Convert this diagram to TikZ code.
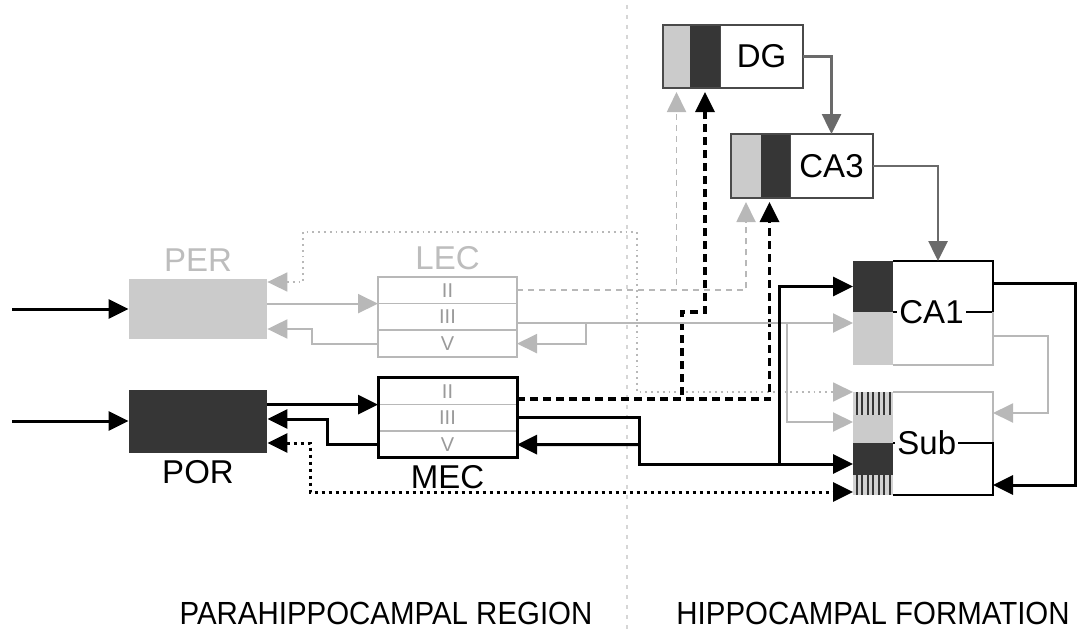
\documentclass[tikz,border=0pt]{standalone}
\usepackage{fontspec}
\setmainfont{Liberation Sans}
\newfontfamily\regfont[FakeStretch=0.92]{Liberation Sans}
\usetikzlibrary{arrows.meta,positioning}
\definecolor{lightfill}{HTML}{CBCBCB}
\definecolor{darkfill}{HTML}{363636}
\definecolor{stripefill}{HTML}{D2D2D2}
\definecolor{lightline}{HTML}{B8B8B8}
\definecolor{lighttext}{HTML}{BDBDBD}
\definecolor{midline}{HTML}{6A6A6A}
\definecolor{boxline}{HTML}{4A4A4A}
\definecolor{divline}{HTML}{D6D6D6}
\definecolor{numtext}{HTML}{9A9A9A}

\begin{document}
\begin{tikzpicture}[x=0.5pt,y=-0.5pt,>={Triangle[length=10pt,width=9.5pt]},
  lab/.style={font=\fontsize{16.5}{19}\selectfont},
  reglab/.style={font=\regfont\fontsize{16}{19}\selectfont},
  shade/.style={inner sep=0pt,minimum width=69pt},
  ecrow/.style={draw=lightline,line width=0.8pt,inner sep=0pt,outer sep=0pt,
    minimum width=69.5pt,minimum height=13.33pt,
    font=\fontsize{10}{12}\selectfont,text=numtext},
  hbox/.style={draw=boxline,line width=1pt,fill=white,inner sep=0pt,outer sep=0pt,
    minimum width=41.5pt,font=\fontsize{16.5}{19}\selectfont},
  lcol/.style={fill=lightfill,inner sep=0pt,outer sep=0pt},
  dcol/.style={fill=darkfill,inner sep=0pt,outer sep=0pt},
  wbox/.style={inner sep=0pt,outer sep=0pt,minimum width=50pt},
  hframe/.style={draw=boxline,line width=1pt},
  bedge/.style={line width=1pt},
  ledge/.style={draw=lightline,line width=0.8pt},
  stripe/.style={line width=1pt,darkfill},
  bconn/.style={->,line width=1.5pt},
  lconn/.style={->,line width=1pt,lightline},
  mconn/.style={->,line width=1.3pt,midline},
  bdash/.style={->,line width=1.7pt,dash pattern=on 4pt off 2.5pt,shorten >=2pt},
  ldash/.style={->,line width=0.9pt,lightline,dash pattern=on 3pt off 2.5pt,shorten >=2pt},
  bdot/.style={<->,line width=1.5pt,dash pattern=on 1.5pt off 2pt},
  ldot/.style={<->,line width=0.9pt,lightline,dash pattern=on 0.9pt off 2pt}]
\path[use as bounding box,fill=white] (0,0) rectangle (1090,631);
\draw[divline,line width=0.6pt,dash pattern=on 2pt off 3pt] (627,5) -- (627,631);

\node[shade,fill=lightfill,minimum height=30pt] (per) at (198,309) {};
\node[shade,fill=darkfill,minimum height=31.5pt] (por) at (198,421) {};
\node[lab,text=lighttext,above=0pt of per] (perlab) {PER};
\node[lab,below=0pt of por] (porlab) {POR};

\node[ecrow] (lec2) at (447.5,290.3) {II};
\node[ecrow,below=0pt of lec2] (lec3) {III};
\node[ecrow,below=0pt of lec3] (lec5) {V};
\node[lab,text=lighttext,above=0pt of lec2] (leclab) {LEC};

\node[ecrow] (mec2) at (447.5,391.3) {II};
\node[ecrow,below=0pt of mec2] (mec3) {III};
\node[ecrow,below=0pt of mec3] (mec5) {V};
\draw[line width=1.5pt] (mec2.north west) rectangle (mec5.south east);
\node[lab,below=0pt of mec5] (meclab) {MEC};

\node[hbox,minimum height=31.5pt] (dg) at (761.5,56.5) {DG};
\node[dcol,minimum width=15pt,minimum height=31.5pt,left=0pt of dg] (dgd) {};
\node[lcol,minimum width=13.5pt,minimum height=31.5pt,left=0pt of dgd] (dgl) {};
\draw[hframe] (dgl.north west) rectangle (dg.south east);

\node[hbox,minimum height=32pt] (ca3) at (831.5,166) {CA3};
\node[dcol,minimum width=14.5pt,minimum height=32pt,left=0pt of ca3] (ca3d) {};
\node[lcol,minimum width=15pt,minimum height=32pt,left=0pt of ca3d] (ca3l) {};
\draw[hframe] (ca3l.north west) rectangle (ca3.south east);

\node[wbox,minimum height=52pt] (ca1) at (943,313) {};
\node[dcol,minimum width=20pt,minimum height=25.5pt,anchor=north east] (ca1d) at (ca1.north west) {};
\node[lcol,minimum width=20pt,minimum height=26.5pt,anchor=south east] (ca1l) at (ca1.south west) {};
\draw[bedge] (ca1d.north east) -- (ca1.north east) -- (ca1.east |- ca1d.south) -- (ca1d.south east);
\draw[ledge] (ca1.east |- ca1d.south) -- (ca1.south east) -- (ca1l.south east);
\node[lab,fill=white,inner sep=1pt,right=2pt of ca1d.south east] (ca1lab) {CA1};

\node[wbox,minimum height=51.5pt] (sub) at (943,443.5) {};
\node[lcol,fill=stripefill,minimum width=20pt,minimum height=11.5pt,anchor=north east] (sst) at (sub.north west) {};
\node[lcol,minimum width=20pt,minimum height=14pt,below=0pt of sst] (slc) {};
\node[dcol,minimum width=20pt,minimum height=16pt,below=0pt of slc] (sdc) {};
\node[lcol,fill=stripefill,minimum width=20pt,minimum height=10pt,below=0pt of sdc] (ssb) {};
\foreach \c in {sst,ssb}
  \foreach \sx in {1.75,4.5,7.25,10,12.75,15.5,18.25}
    \draw[stripe] ([xshift=\sx pt]\c.north west) -- ([xshift=\sx pt]\c.south west);
\draw[ledge] (sst.north east) -- (sub.north east) -- (sub.east |- sdc.north);
\draw[bedge] (sdc.north east) -- (sub.east |- sdc.north) -- (sub.south east) -- (ssb.south east);
\node[lab,fill=white,inner sep=1pt,right=1pt of sdc.north east] (sublab) {Sub};

\coordinate (inper) at (12,309);
\coordinate (inpor) at (12,421);
\coordinate (lret) at (586,323);
\coordinate (mret) at (639,444.7);
\coordinate (jca1) at (779,464);
\draw[bconn] (inper) -- (per);
\draw[bconn] (inpor) -- (por);

\draw[lconn] (per.east |- lec2.south) -- (lec2.south west);
\draw[lconn] (lec5.west) -- ++(-66,0) |- (per.east |- 0,329);
\draw[bconn] (por.east |- mec2.south) -- (mec2.south west);
\draw[bconn] (mec5.west) -- ++(-51,0) |- (por.east |- 0,419);

\draw[ldot] (per.east |- 0,282) -| (303,232) -| (637,392) -- (sst.north west);
\draw[bdot] (por.east |- 0,443) -| (310,492) -- (ssb.west |- 0,492);

\draw[ldash] (lec2.east) -| (dgl.south);
\draw[ldash] (lec2.east) -| (ca3l.south);
\draw[bdash] (mec2.east |- 0,399) -| ([xshift=-3pt]ca3d.south);
\draw[bdash] (mec2.east |- 0,399) -- (682,399) |- (dgd.south |- 0,312) -- (dgd.south);

\draw[lconn] (lec3.east |- 0,323) -- (ca1l.west |- 0,323);
\draw[lconn] (lec3.east |- 0,323) -| (787,422) -- (slc.west |- 0,422);
\draw[lconn] (lret) |- (lec5.east);

\draw[bconn] (mec3.east) -| (639,464) -- (sdc.west |- 0,464);
\draw[bconn] (jca1) |- (ca1d.west);
\draw[bconn] (mret) -- (mec5.east);

\draw[mconn] (dg.east) -| (ca3.north);
\draw[mconn] (ca3.east) -| ([xshift=-2.5pt]ca1.north);
\draw[bconn] (ca1.east |- 0,283) -| (1075,485) -- (sub.east |- 0,485);
\draw[lconn] (ca1.east |- 0,336) -| (1048,413) -- (sub.east |- 0,413);

\node[reglab] (parareg) at (386,613) {PARAHIPPOCAMPAL REGION};
\node[reglab] (hipform) at (873,613) {HIPPOCAMPAL FORMATION};
\end{tikzpicture}
\end{document}
